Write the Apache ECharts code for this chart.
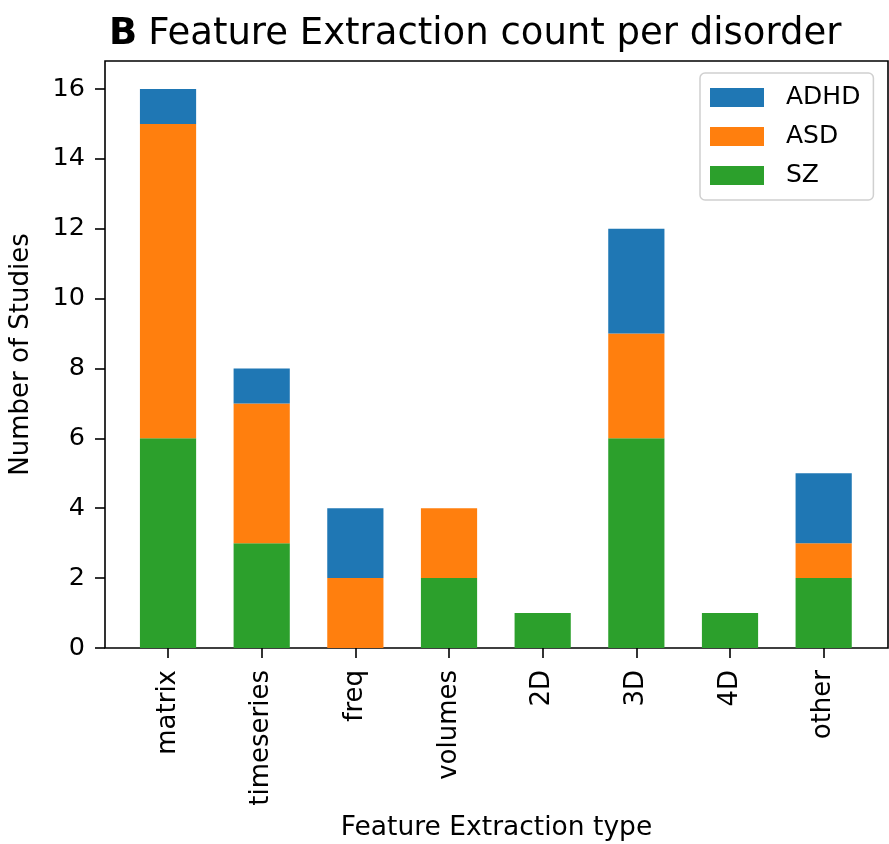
<!DOCTYPE html>
<html>
<head>
<meta charset="utf-8">
<script src="https://cdn.jsdelivr.net/npm/echarts@6/dist/echarts.min.js"></script>
<style>
  html, body { margin: 0; padding: 0; background: #fff; }
  #chart { width: 889px; height: 844px; }
</style>
</head>
<body>
<div id="chart"></div>
<script>
  // categories and counts per disorder
  const categories = ['matrix', 'timeseries', 'freq', 'volumes', '2D', '3D', '4D', 'other']
  const szCounts = [6, 3, 0, 2, 1, 6, 1, 2]
  const asdCounts = [9, 4, 2, 2, 0, 3, 0, 1]
  const adhdCounts = [1, 1, 2, 0, 0, 3, 0, 2]
  const yTicks = [0, 2, 4, 6, 8, 10, 12, 14, 16]

  const font = 'DejaVu Sans'

  function makeSeries(name, arr, color) {
    return {
      name: name,
      type: 'bar',
      stack: 'total',
      xAxisIndex: 1,
      yAxisIndex: 1,
      barWidth: '60%',
      data: arr,
      itemStyle: {color: color},
      emphasis: {disabled: true}
    }
  }

  const chart = echarts.init(document.getElementById('chart'))
  const option = {
    animation: false,
    textStyle: {fontFamily: font},
    title: {
      left: 104,
      top: 11,
      text: '{b|B}{n|Feature Extraction count per disorder}',
      textStyle: {
        rich: {
          b: {fontFamily: font, fontSize: 37, fontWeight: 'bold', color: '#000', padding: [0, 11, 0, 0]},
          n: {fontFamily: font, fontSize: 37, fontWeight: 'normal', color: '#000'}
        }
      }
    },
    // grid 0 = frame + y ticks, grid 1 = bars (inner padding like matplotlib margins)
    grid: [
      {left: 105, right: 1, top: 61, bottom: 196, outerBoundsMode: 'none',
        show: true, borderColor: '#000', borderWidth: 1.6},
      {left: 121.2, right: 18.5, top: 61, bottom: 196, outerBoundsMode: 'none'}
    ],
    legend: {
      orient: 'vertical',
      left: 700, top: 73,
      padding: [12, 13, 12, 10],
      itemWidth: 54, itemHeight: 19, itemGap: 14,
      icon: 'rect',
      data: ['ADHD', 'ASD', 'SZ'],
      backgroundColor: '#fff',
      borderColor: '#d0d0d0', borderWidth: 1.5, borderRadius: 5,
      textStyle: {fontFamily: font, fontSize: 25, color: '#000', padding: [0, 0, 0, 17]}
    },
    xAxis: [
      {
        gridIndex: 0, type: 'value', min: 0, max: 1,
        axisLine: {show: false}, axisTick: {show: false}, axisLabel: {show: false}, splitLine: {show: false},
        name: 'Feature Extraction type',
        nameLocation: 'middle', nameGap: 167,
        nameTextStyle: {fontFamily: font, fontSize: 26.5, color: '#000'}
      },
      {
        gridIndex: 1, type: 'category', data: categories,
        axisLine: {show: false},
        axisTick: {show: true, alignWithLabel: true, length: 10, lineStyle: {color: '#000', width: 1.6}},
        axisLabel: {rotate: 90, margin: 22, fontFamily: font, fontSize: 26, color: '#000'}
      }
    ],
    yAxis: [
      {
        gridIndex: 0, type: 'value', min: 0, max: 16.8,
        splitLine: {show: false},
        axisLine: {show: false},
        axisTick: {show: true, length: 10, customValues: yTicks, lineStyle: {color: '#000', width: 1.6}},
        axisLabel: {customValues: yTicks, margin: 20, fontFamily: font, fontSize: 25.5, color: '#000'},
        name: 'Number of Studies',
        nameLocation: 'middle', nameGap: 71,
        nameTextStyle: {fontFamily: font, fontSize: 26, color: '#000'}
      },
      {
        gridIndex: 1, type: 'value', min: 0, max: 16.8,
        axisLine: {show: false}, axisTick: {show: false}, axisLabel: {show: false}, splitLine: {show: false}
      }
    ],
    series: [
      makeSeries('SZ', szCounts, '#2ca02c'),
      makeSeries('ASD', asdCounts, '#ff7f0e'),
      makeSeries('ADHD', adhdCounts, '#1f77b4')
    ]
  }
  chart.setOption(option)
</script>
</body>
</html>
